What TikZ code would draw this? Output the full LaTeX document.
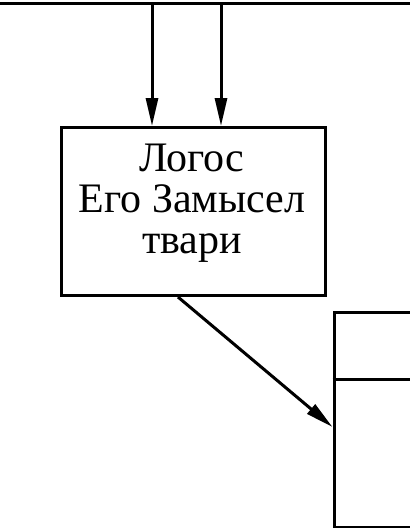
\documentclass[tikz,border=0pt]{standalone}
\usepackage{fontspec}
\setmainfont{Liberation Serif}
\usetikzlibrary{arrows.meta}
\begin{document}
\begin{tikzpicture}[x=1pt,y=-1pt,
  line width=3pt,
  arr/.style={-{Triangle[length=28pt,width=12pt]}},
  boxa/.style={draw,rectangle,inner sep=0pt,line width=3pt},
  lbl/.style={align=center,font=\fontsize{42}{41}\selectfont}]
\useasboundingbox (0,0) rectangle (410,528);
\clip (0,0) rectangle (410,528);
% top line
\coordinate (tl) at (0,3);
\coordinate (tr) at (410,3);
\draw (tl) -- (tr);
% main box
\node[boxa,minimum width=264pt,minimum height=168pt] (logos) at (193.5,211.5) {};
\node[lbl] (txt) at (192,203) {Логос\\Его Замысел\\твари};
% arrows from top
\coordinate (s1) at (152,3);
\coordinate (s2) at (221,3);
\draw[arr] (s1) -- (s1 |- logos.north);
\draw[arr] (s2) -- (s2 |- logos.north);
% right box
\node[boxa,minimum width=140pt,minimum height=215pt] (rbox) at (404,419.5) {};
\coordinate (dv) at (0,379);
\draw (rbox.west |- dv) -- (rbox.east |- dv);
% diagonal arrow
\coordinate (d0) at (178,0);
\coordinate (d1) at (0,427);
\draw[arr] (logos.south -| d0) -- (rbox.west |- d1);
\end{tikzpicture}
\end{document}
